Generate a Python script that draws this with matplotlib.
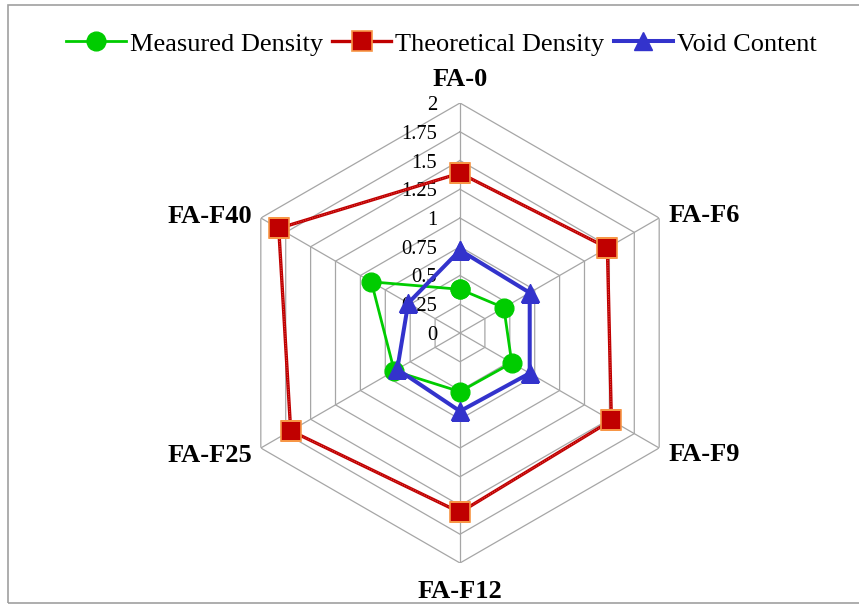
import numpy as np
import matplotlib
matplotlib.use("Agg")
import matplotlib.pyplot as plt
from matplotlib.patches import Rectangle
from matplotlib.lines import Line2D

# Series values per mix
categories = ["FA-0", "FA-F6", "FA-F9", "FA-F12", "FA-F25", "FA-F40"]
measured_density = [0.38, 0.44, 0.52, 0.51, 0.66, 0.89]
theoretical_density = [1.39, 1.48, 1.52, 1.56, 1.70, 1.82]
void_content = [0.72, 0.70, 0.70, 0.68, 0.63, 0.52]

# Radial scale
ring_values = [0, 0.25, 0.5, 0.75, 1, 1.25, 1.5, 1.75, 2]
ring_labels = ["0", "0.25", "0.5", "0.75", "1", "1.25", "1.5", "1.75", "2"]

plt.rcParams["font.family"] = ["Liberation Serif", "DejaVu Serif"]

W, H = 859, 605
fig = plt.figure(figsize=(W / 100, H / 100), dpi=100)
fig.patch.set_facecolor("white")

cx, cy, R = 460, 333, 230
ax = fig.add_axes([(cx - R) / W, (H - cy - R) / H, 2 * R / W, 2 * R / H],
                  projection="polar")
ax.set_theta_offset(np.pi / 2)
ax.set_theta_direction(-1)
ax.set_ylim(0, ring_values[-1])
ax.grid(False)
ax.set_xticks([])
ax.set_yticks([])
ax.spines["polar"].set_visible(False)
ax.patch.set_visible(False)

n = len(categories)
theta = np.arange(n) * 2 * np.pi / n
closed = np.append(theta, theta[0])


def close(vals):
    return np.append(vals, vals[0])


# Hexagonal grid and spokes
grid_color = "#A6A6A6"
for v in ring_values[1:]:
    ax.plot(closed, [v] * (n + 1), color=grid_color, lw=0.9, zorder=1)
for t in theta:
    ax.plot([t, t], [0, ring_values[-1]], color=grid_color, lw=0.9, zorder=1)

# Radial labels along the top spoke
for v, lab in zip(ring_values, ring_labels):
    ax.annotate(lab, xy=(0, v), xytext=(-23, -7), textcoords="offset pixels",
                ha="right", va="baseline", fontsize=14.8, zorder=2)

# Measured density
green = "#00CC00"
ax.plot(closed, close(measured_density), color=green, lw=2.0,
        marker="o", ms=13.5, mfc=green, mec=green, zorder=3)

# Theoretical density: textured red line, markers on top
red, red_edge = "#C00000", "#F79646"
ax.plot(closed, close(theoretical_density), color=red, lw=2.4, zorder=4)
ax.plot(closed, close(theoretical_density), color="#F08080", lw=0.7,
        ls=(0, (1, 1.5)), alpha=0.6, zorder=4.05)
ax.plot(theta, theoretical_density, ls="none", marker="s", ms=15,
        mfc=red, mec=red_edge, mew=1.2, zorder=4.1)

# Void content
blue = "#3333CC"
ax.plot(closed, close(void_content), color=blue, lw=2.9,
        marker="^", ms=13, mfc=blue, mec=blue, zorder=5)

# Category labels around the outer ring
label_offsets = {
    "FA-0": (0, 17, "center"),
    "FA-F6": (9, -3.5, "left"),
    "FA-F9": (9, -13.5, "left"),
    "FA-F12": (0, -35, "center"),
    "FA-F25": (-9, -13.5, "right"),
    "FA-F40": (-9, -5, "right"),
}
for t, cat in zip(theta, categories):
    dx, dy, ha = label_offsets[cat]
    ax.annotate(cat, xy=(t, ring_values[-1]), xytext=(dx, dy),
                textcoords="offset pixels", ha=ha, va="baseline",
                fontsize=19, fontweight="bold", annotation_clip=False)

handles = [
    Line2D([], [], color=green, lw=2.0, marker="o", ms=13.5, mfc=green, mec=green),
    Line2D([], [], color=red, lw=2.4, marker="s", ms=15, mfc=red, mec=red_edge, mew=1.2),
    Line2D([], [], color=blue, lw=2.9, marker="^", ms=13, mfc=blue, mec=blue),
]
fig.legend(handles, ["Measured Density", "Theoretical Density", "Void Content"],
           loc="center", bbox_to_anchor=(441.5 / W, 1 - 44 / H), ncol=3,
           frameon=False, fontsize=19, handlelength=2.25, handletextpad=0.15,
           columnspacing=0.35, borderpad=0, borderaxespad=0)

# Chart area border
fig.add_artist(Rectangle((8 / W, 2 / H), 1.0, (603 - 5) / H,
                         transform=fig.transFigure, fill=False,
                         ec="#A0A0A0", lw=1.2))

fig.savefig("out.png", dpi=100, facecolor="white")
